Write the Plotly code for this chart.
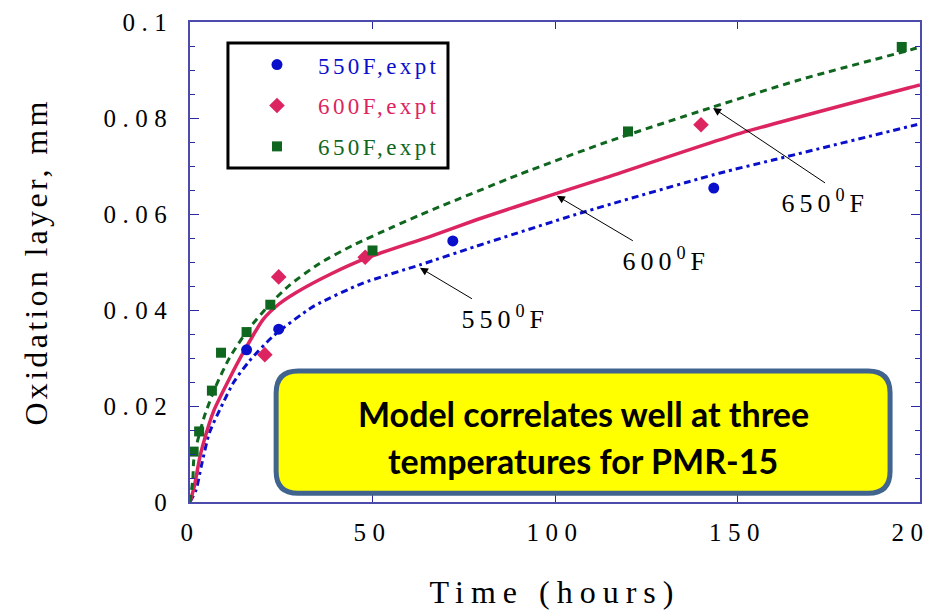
import plotly.graph_objects as go

# ---- experimental data (hours, mm) ----
t550 = [15.5, 24.3, 72, 143.5]
y550 = [0.0317, 0.0360, 0.0544, 0.0654]
t600 = [20.5, 24.3, 48, 140]
y600 = [0.0307, 0.0469, 0.0510, 0.0786]
t650 = [1, 2.5, 6, 8.5, 15.5, 22, 50, 120, 195]
y650 = [0.0105, 0.0147, 0.0232, 0.0311, 0.0354, 0.0411, 0.0524, 0.0772, 0.0948]

# ---- model curves ----
tm550 = [0, 1.7, 3.1, 5.3, 8.6, 12, 16.3, 22.7, 33.7, 47.4, 63, 78.5, 107, 145, 160, 199, 200]
ym550 = [0, 0.0026, 0.0075, 0.0144, 0.0199, 0.0250, 0.0294, 0.0345, 0.0407, 0.0456,
         0.0494, 0.0533, 0.0602, 0.0685, 0.0713, 0.0786, 0.0788]
tm600 = [0, 1.2, 2.6, 3.5, 6.5, 11, 14.5, 20, 24.3, 29, 38.3, 48.3, 65.7, 78.5, 100, 112.4,
         150.7, 199, 200]
ym600 = [0, 0.0033, 0.0090, 0.0118, 0.0190, 0.0260, 0.0310, 0.0380, 0.0412, 0.0436, 0.0474,
         0.0508, 0.0553, 0.0588, 0.0642, 0.0672, 0.0768, 0.0867, 0.0869]
tm650 = [0, 0.8, 1, 2, 4, 7, 10.8, 16, 22, 27.3, 35.5, 44.7, 55.6, 63, 90.4, 114.2, 142.5,
         167.2, 197.4, 200]
ym650 = [0, 0.005, 0.0085, 0.0125, 0.0180, 0.0240, 0.0300, 0.0360, 0.0413, 0.0452,
         0.0497, 0.0535, 0.0573, 0.0598, 0.0683, 0.0750, 0.0821, 0.0880, 0.0942, 0.0948]

names = ["550F,expt", "600F,expt", "650F,expt"]
labels = ["550<sup>0</sup>F", "600<sup>0</sup>F", "650<sup>0</sup>F"]
box_lines = ["Model correlates well at three", "temperatures for PMR-15"]

BLUE = "#0a0fcc"
PINK = "#dc2460"
GREEN = "#0f661e"
AXIS = "#4b4bab"
TICK = "#2a2aa0"
SERIF = "Liberation Serif"

fig = go.Figure()

# model curves
fig.add_trace(go.Scatter(x=tm550, y=ym550, mode="lines", showlegend=False, hoverinfo="skip",
                         line=dict(color=BLUE, width=3, dash="7px,4px,3px,4px",
                                   shape="spline", smoothing=0.6)))
fig.add_trace(go.Scatter(x=tm600, y=ym600, mode="lines", showlegend=False, hoverinfo="skip",
                         line=dict(color=PINK, width=3.5, shape="spline", smoothing=0.6)))
fig.add_trace(go.Scatter(x=tm650, y=ym650, mode="lines", showlegend=False, hoverinfo="skip",
                         line=dict(color=GREEN, width=3, dash="7px,5px",
                                   shape="spline", smoothing=0.6)))

# experimental points
fig.add_trace(go.Scatter(x=t550, y=y550, mode="markers", legendgroup="a",
                         name=f'<span style="color:{BLUE}">{names[0]}</span>',
                         marker=dict(symbol="circle", size=11, color=BLUE)))
fig.add_trace(go.Scatter(x=t600, y=y600, mode="markers", legendgroup="b",
                         name=f'<span style="color:{PINK}">{names[1]}</span>',
                         marker=dict(symbol="diamond", size=12, color=PINK)))
fig.add_trace(go.Scatter(x=t650, y=y650, mode="markers", legendgroup="c",
                         name=f'<span style="color:{GREEN}">{names[2]}</span>',
                         marker=dict(symbol="square", size=10, color=GREEN)))

axis_common = dict(
    showline=True, linecolor=AXIS, linewidth=1.5, mirror="ticks",
    ticks="inside", tickcolor=TICK, tickwidth=1.3,
    showgrid=False, zeroline=False, automargin=False,
    tickfont=dict(family=SERIF, size=25, color="black"),
)

fig.update_xaxes(range=[0, 200], dtick=50, ticklen=7, ticklabelstandoff=7,
                 ticklabeloverflow="allow",
                 title=dict(text="Time (hours)", font=dict(family=SERIF, size=32, color="black"),
                            standoff=36),
                 **axis_common)
fig.update_yaxes(range=[0, 0.1], dtick=0.02, ticklen=9, ticklabelstandoff=10,
                 minor=dict(dtick=0.005, ticks="inside", ticklen=5, tickcolor=TICK, tickwidth=1.2),
                 title=dict(text="Oxidation layer, mm", font=dict(family=SERIF, size=32, color="black"),
                            standoff=72),
                 **axis_common)

# legend frame
fig.add_shape(type="rect", xref="paper", yref="paper", x0=0.052, x1=0.3534, y0=0.696, y1=0.956,
              layer="below", fillcolor="white", line=dict(color="black", width=3))

# rounded yellow call-out box (paper coordinates)
x0, x1, y0, y1 = 0.118, 0.959, 0.018, 0.273
rx, ry = 0.030, 0.046
path = (f"M {x0+rx},{y0} L {x1-rx},{y0} Q {x1},{y0} {x1},{y0+ry} "
        f"L {x1},{y1-ry} Q {x1},{y1} {x1-rx},{y1} L {x0+rx},{y1} "
        f"Q {x0},{y1} {x0},{y1-ry} L {x0},{y0+ry} Q {x0},{y0} {x0+rx},{y0} Z")
fig.add_shape(type="path", path=path, xref="paper", yref="paper", layer="above",
              fillcolor="#ffff00", line=dict(color="#41648e", width=5))

for yy, line in zip([0.1854, 0.0875], box_lines):
    fig.add_annotation(xref="paper", yref="paper", x=0.539, y=yy, text=f"<b>{line}</b>",
                       xanchor="center", yanchor="middle", showarrow=False,
                       font=dict(family="Lato", size=34, color="black"))

# curve labels with arrows (head on the curve, label at the tail)
arrows = [(63, 0.0488, 52, 31, "left"), (100.5, 0.0638, 76, 45, "left"),
          (143.3, 0.0821, 112, 75, "center")]
for (hx, hy, ax, ay, xa), txt in zip(arrows, labels):
    fig.add_annotation(x=hx, y=hy, ax=ax, ay=ay, text=txt, showarrow=True,
                       xanchor=xa, yanchor="top",
                       arrowhead=2, arrowsize=1.6, arrowwidth=1, arrowcolor="black",
                       font=dict(family=SERIF, size=26, color="black"))

fig.update_layout(
    width=928, height=611,
    margin=dict(l=190, r=8, t=22, b=109, autoexpand=False),
    paper_bgcolor="white", plot_bgcolor="white",
    showlegend=True,
    legend=dict(x=0.063, y=0.956, xanchor="left", yanchor="top",
                bgcolor="rgba(0,0,0,0)", borderwidth=0,
                font=dict(family=SERIF, size=23), itemwidth=72,
                tracegroupgap=8),
)

# wide letter spacing of the original slide typography
post = """
var gd = document.getElementById('{plot_id}');
function sp(){
  var rules = [['.xtick text', '6.5px'], ['.ytick text', '6.5px'], ['.xtitle', '7px'],
               ['.ytitle', '3.3px'], ['.legendtext', '3.4px'], ['.annotation-text', '5px']];
  rules.forEach(function(r){
    gd.querySelectorAll(r[0]).forEach(function(e){ e.style.letterSpacing = r[1]; });
  });
  gd.querySelectorAll('.annotation-text').forEach(function(e){
    if (e.textContent.indexOf('Model') >= 0 || e.textContent.indexOf('PMR') >= 0) {
      e.style.letterSpacing = '0px';
    }
  });
  gd.querySelectorAll('.legend [clip-path]').forEach(function(e){ e.removeAttribute('clip-path'); });
}
sp();
"""
fig.write_html("out.html", post_script=post)
